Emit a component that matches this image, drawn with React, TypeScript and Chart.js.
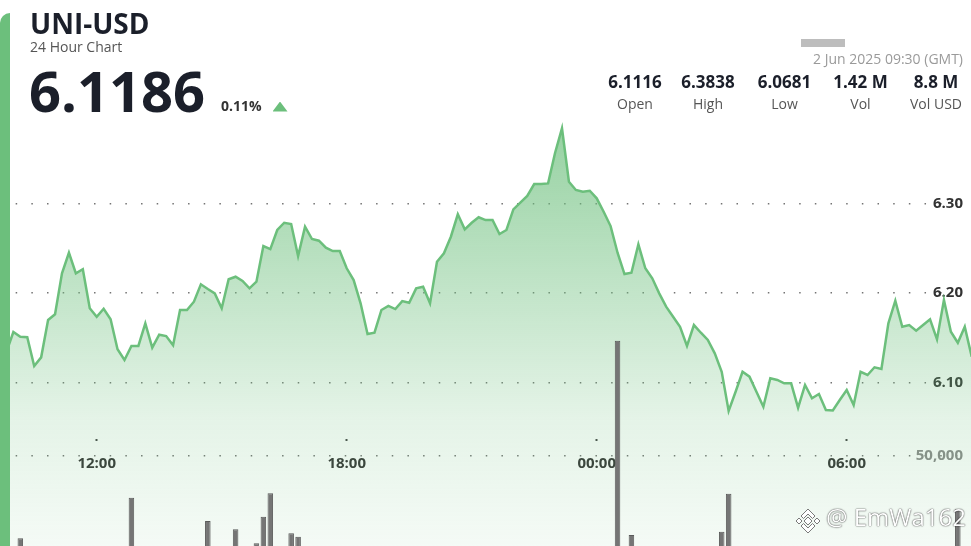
import React, { useEffect, useRef } from "react";
import { Chart, registerables } from "chart.js";

Chart.register(...registerables);

// ---- data ----
const START_TIME = "09:30"; // first 10-minute sample (1 Jun 2025)
const STEP_MINUTES = 10;

const prices = [
  6.1116, 6.1250, 6.1339, 6.1562, 6.1509, 6.1503, 6.1182, 6.1279, 6.1696, 6.1760,
  6.2218, 6.2448, 6.2218, 6.2263, 6.1827, 6.1733, 6.1822, 6.1704, 6.1369, 6.1249,
  6.1406, 6.1406, 6.1659, 6.1387, 6.1532, 6.1517, 6.1413, 6.1808, 6.1808, 6.1901,
  6.2095, 6.2042, 6.1994, 6.1827, 6.2151, 6.2180, 6.2132, 6.2050, 6.2124, 6.2523,
  6.2489, 6.2702, 6.2783, 6.2769, 6.2411, 6.2739, 6.2601, 6.2582, 6.2504, 6.2467,
  6.2467, 6.2274, 6.2143, 6.1883, 6.1540, 6.1554, 6.1808, 6.1853, 6.1819, 6.1908,
  6.1889, 6.2050, 6.2068, 6.1883, 6.2347, 6.2441, 6.2627, 6.2877, 6.2709, 6.2783,
  6.2844, 6.2813, 6.2813, 6.2657, 6.2702, 6.2933, 6.3007, 6.3082, 6.3216, 6.3216,
  6.3223, 6.3562, 6.3838, 6.3241, 6.3149, 6.3130, 6.3141, 6.3056, 6.2906, 6.2746,
  6.2448, 6.2210, 6.2225, 6.2542, 6.2274, 6.2162, 6.1994, 6.1845, 6.1733, 6.1621,
  6.1406, 6.1640, 6.1554, 6.1473, 6.1324, 6.1118, 6.0681, 6.0895, 6.1118, 6.1063,
  6.0895, 6.0727, 6.1045, 6.1026, 6.0989, 6.0989, 6.0716, 6.0970, 6.0821, 6.0869,
  6.0690, 6.0685, 6.0802, 6.0914, 6.0746, 6.1118, 6.1082, 6.1168, 6.1149, 6.1659,
  6.1912, 6.1621, 6.1640, 6.1577, 6.1640, 6.1704, 6.1480, 6.1920, 6.1565, 6.1442,
  6.1621, 6.1286, 6.1250, 6.1220, 6.1186,
];

const volumeTimes = ["10:10", "12:50", "14:40", "15:20", "15:50", "16:00", "16:10", "16:40", "16:50", "00:30", "00:50", "03:00", "03:10", "08:40"];
const volumeValues = [4300, 26800, 13900, 9300, 1500, 16300, 29300, 7100, 5200, 114000, 6100, 7900, 29000, 20400];

const timeTicks = ["12:00", "18:00", "00:00", "06:00"];
const priceTicks = [6.1, 6.2, 6.3];
const volumeTicks = [50000];

const statValues = ["6.1116", "6.3838", "6.0681", "1.42 M", "8.8 M"];
const statLabels = ["Open", "High", "Low", "Vol", "Vol USD"];

const SYMBOL = "UNI-USD";
const SUBTITLE = "24 Hour Chart";
const LAST_PRICE = "6.1186";
const CHANGE = "0.11%";
const DATE_TEXT = "2 Jun 2025 09:30 (GMT)";
const WATERMARK = "@ EmWa162";

// ---- view window ----
const X_MIN = 9.679;
const X_MAX = 32.983;
const P_MIN = 5.9171;
const P_MAX = 6.5272;
const V_MAX = 303333;
const X_AXIS_AT = 6.0366; // price value where the time axis sits
const Y_LABEL_AT = 32.79; // time value where value labels end

const GREEN = "#6cbf7c";

function toHours(t: string): number {
  const [h, m] = t.split(":").map(Number);
  const start = Number(START_TIME.split(":")[0]) + Number(START_TIME.split(":")[1]) / 60;
  let v = h + m / 60;
  if (v < start) v += 24;
  return v;
}

function fmtHour(v: number): string {
  const h = Math.round(v) % 24;
  return (h < 10 ? "0" : "") + h + ":00";
}

function zeroPad(s: any) {
  s.paddingLeft = 0;
  s.paddingRight = 0;
  s.paddingTop = 0;
  s.paddingBottom = 0;
  if (s.isHorizontal()) s.height = 0;
  else s.width = 0;
}

function Txt(props: {
  x: number;
  base: number;
  size: number;
  weight?: number;
  color: string;
  align?: "left" | "center" | "right";
  children: React.ReactNode;
  style?: React.CSSProperties;
}) {
  const { x, base, size, weight = 400, color, align = "left", children, style } = props;
  const tx = align === "left" ? "0" : align === "center" ? "-50%" : "-100%";
  return (
    <div
      style={{
        position: "absolute",
        left: x,
        top: base - 0.888 * size,
        fontSize: size,
        lineHeight: `${size}px`,
        fontWeight: weight,
        color,
        whiteSpace: "nowrap",
        transform: `translateX(${tx})`,
        ...style,
      }}
    >
      {children}
    </div>
  );
}

const statCenters = [635, 708, 784.5, 860.5, 936];

export default function App() {
  const ref = useRef<HTMLCanvasElement | null>(null);

  useEffect(() => {
    const canvas = ref.current;
    if (!canvas) return;
    Chart.defaults.font.family = "'Open Sans', sans-serif";
    const startH = toHours(START_TIME);
    const priceData = prices.map((p, i) => ({ x: startH + (i * STEP_MINUTES) / 60, y: p }));
    const volumeData = volumeTimes.map((t, i) => ({ x: toHours(t), y: volumeValues[i] }));

    const gridCommon = {
      color: "rgba(70,70,70,0.75)",
      lineWidth: 1.5,
      drawTicks: false,
    };

    const chart = new Chart(canvas, {
      type: "line",
      data: {
        datasets: [
          {
            type: "line",
            data: priceData,
            yAxisID: "y",
            xAxisID: "x",
            borderColor: GREEN,
            borderWidth: 2.5,
            pointRadius: 0,
            tension: 0,
            fill: "start",
            order: 1,
            backgroundColor: (ctx: any) => {
              const c = ctx.chart;
              const area = c.chartArea;
              if (!area) return "rgba(108,191,124,0.3)";
              const g = c.ctx.createLinearGradient(0, 120, 0, area.bottom);
              g.addColorStop(0, "rgba(108,191,124,0.72)");
              g.addColorStop(0.42, "rgba(108,191,124,0.40)");
              g.addColorStop(0.7, "rgba(108,191,124,0.18)");
              g.addColorStop(1, "rgba(108,191,124,0.07)");
              return g;
            },
          },
          {
            type: "bar",
            data: volumeData,
            yAxisID: "yv",
            xAxisID: "x",
            backgroundColor: "#757575",
            borderColor: "#5a5a5a",
            borderWidth: 1,
            barPercentage: 0.8,
            categoryPercentage: 1,
            order: 0,
          } as any,
        ],
      },
      options: {
        responsive: false,
        animation: false,
        devicePixelRatio: 1,
        layout: { padding: 0, autoPadding: false },
        plugins: {
          legend: { display: false },
          tooltip: { enabled: false },
          title: { display: false },
        },
        scales: {
          x: {
            type: "linear",
            min: X_MIN,
            max: X_MAX,
            offset: false,
            position: { y: X_AXIS_AT } as any,
            afterBuildTicks: (s: any) => {
              s.ticks = timeTicks.map((t) => ({ value: toHours(t) }));
            },
            afterFit: zeroPad,
            ticks: {
              callback: (v: any) => fmtHour(Number(v)),
              color: "#333",
              font: { size: 15, weight: "bold" },
              padding: 14,
              maxRotation: 0,
              autoSkip: false,
            },
            grid: {
              offset: false,
              drawOnChartArea: false,
              drawTicks: true,
              tickLength: 2,
              tickWidth: 2,
              tickColor: "#444",
            },
            border: { display: false },
          },
          y: {
            type: "linear",
            axis: "y",
            min: P_MIN,
            max: P_MAX,
            position: { x: Y_LABEL_AT } as any,
            afterBuildTicks: (s: any) => {
              s.ticks = priceTicks.map((v) => ({ value: v }));
            },
            afterFit: zeroPad,
            ticks: {
              callback: (v: any) => Number(v).toFixed(2),
              color: "#333",
              font: { size: 15, weight: "bold" },
              padding: 0,
            },
            grid: gridCommon,
            border: { display: false, dash: [1.5, 14.17] },
          },
          yv: {
            type: "linear",
            axis: "y",
            min: 0,
            max: V_MAX,
            position: { x: Y_LABEL_AT } as any,
            afterBuildTicks: (s: any) => {
              s.ticks = volumeTicks.map((v) => ({ value: v }));
            },
            afterFit: zeroPad,
            ticks: {
              callback: (v: any) => Number(v).toLocaleString("en-US"),
              color: "#8a8a8a",
              font: { size: 15, weight: "bold" },
              padding: 0,
            },
            grid: gridCommon,
            border: { display: false, dash: [1.5, 14.17] },
          },
        } as any,
      },
    } as any);

    return () => chart.destroy();
  }, []);

  return (
    <div
      style={{
        position: "absolute",
        left: 0,
        top: 0,
        width: 971,
        height: 546,
        overflow: "hidden",
        background: "#fff",
        fontFamily: "'Open Sans', sans-serif",
      }}
    >
      <canvas ref={ref} width={971} height={546} style={{ position: "absolute", left: 0, top: 0, width: 971, height: 546 }} />

      {/* left accent bar */}
      <div
        style={{
          position: "absolute",
          left: 0,
          top: 13,
          width: 10,
          height: 560,
          background: GREEN,
          borderTopLeftRadius: 10,
        }}
      />

      <Txt x={30} base={33.5} size={28} weight={700} color="#1b1f2a">{SYMBOL}</Txt>
      <Txt x={30} base={52.5} size={14} color="#555">{SUBTITLE}</Txt>
      <Txt x={29} base={111.5} size={56} weight={700} color="#1b1f2a">{LAST_PRICE}</Txt>
      <Txt x={221} base={111} size={14} weight={700} color="#333">{CHANGE}</Txt>
      <div
        style={{
          position: "absolute",
          left: 272.5,
          top: 101.5,
          width: 15,
          height: 10,
          background: GREEN,
          clipPath: "polygon(50% 0, 100% 100%, 0 100%)",
        }}
      />

      {/* redacted block */}
      <div style={{ position: "absolute", left: 801, top: 39, width: 44, height: 8, background: "#bdbdbd" }} />
      <Txt x={963} base={64} size={14} color="#9a9a9a" align="right">{DATE_TEXT}</Txt>

      {statValues.map((v, i) => (
        <Txt key={"v" + i} x={statCenters[i]} base={88.5} size={17} weight={700} color="#1b1f2a" align="center">{v}</Txt>
      ))}
      {statLabels.map((v, i) => (
        <Txt key={"l" + i} x={statCenters[i]} base={109} size={14} color="#555" align="center">{v}</Txt>
      ))}

      {/* watermark */}
      <svg style={{ position: "absolute", left: 793, top: 506 }} width={30} height={30} viewBox="0 0 30 30">
        <g fill="#fff" stroke="#7a7a7a" strokeWidth={1}>
          <polygon points="15,11 19,15 15,19 11,15" />
          <polygon points="6,12 9,15 6,18 3,15" />
          <polygon points="24,12 27,15 24,18 21,15" />
          <polygon points="15,3 22,10 19.5,12.5 15,8 10.5,12.5 8,10" />
          <polygon points="15,27 22,20 19.5,17.5 15,22 10.5,17.5 8,20" />
        </g>
      </svg>
      <Txt
        x={826}
        base={526}
        size={24}
        color="#fff"
        style={{ textShadow: "0 0 1px rgba(0,0,0,0.85), 0 0 2px rgba(0,0,0,0.45)" }}
      >
        {WATERMARK}
      </Txt>
    </div>
  );
}
